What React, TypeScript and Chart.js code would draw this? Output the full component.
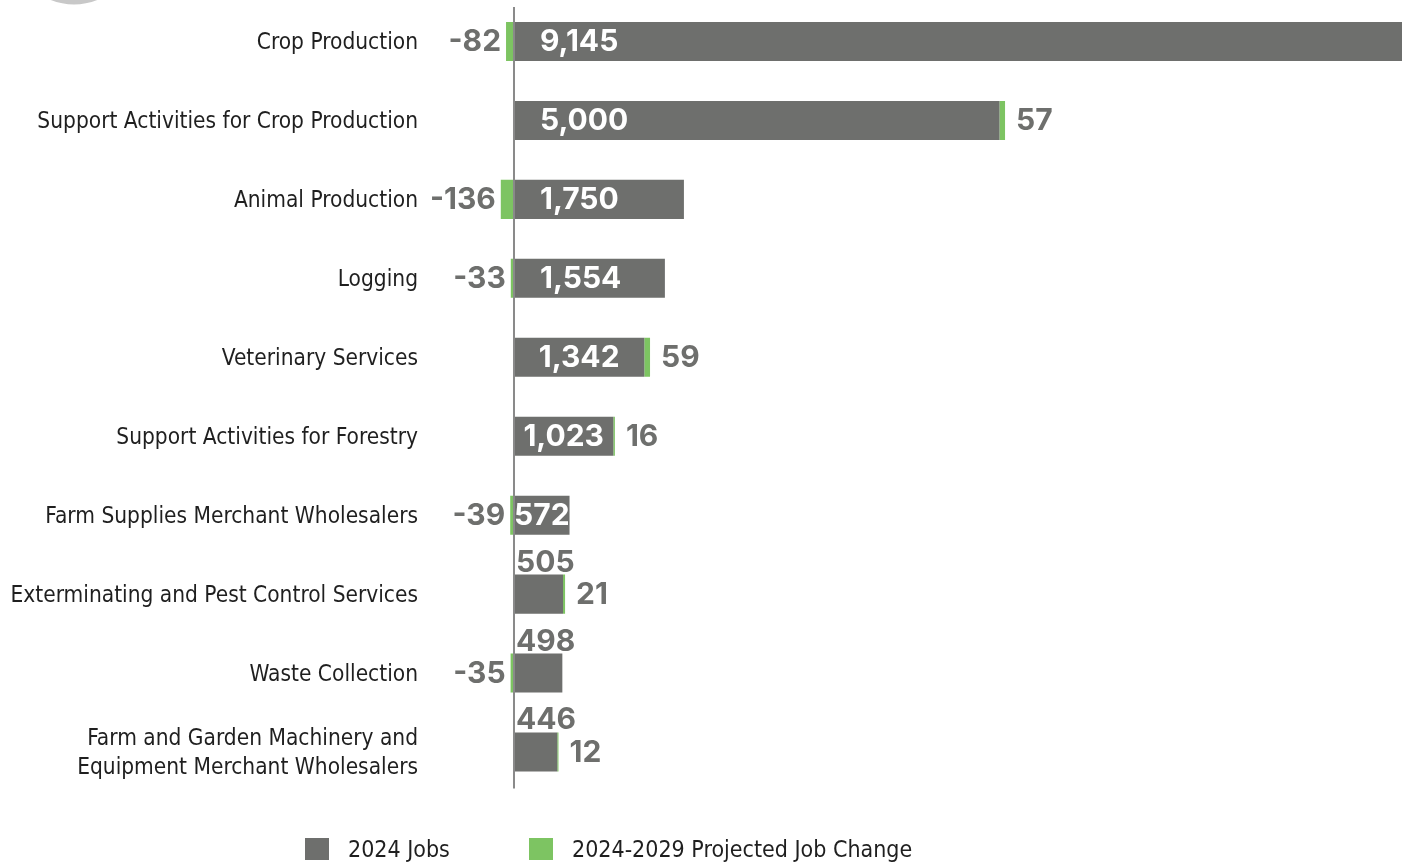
import React, { useEffect, useRef } from "react";
import { Chart, registerables } from "chart.js";

Chart.register(...registerables);

const categories: (string | string[])[] = [
  "Crop Production",
  "Support Activities for Crop Production",
  "Animal Production",
  "Logging",
  "Veterinary Services",
  "Support Activities for Forestry",
  "Farm Supplies Merchant Wholesalers",
  "Exterminating and Pest Control Services",
  "Waste Collection",
  ["Farm and Garden Machinery and", "Equipment Merchant Wholesalers"],
];

const jobs2024 = [9145, 5000, 1750, 1554, 1342, 1023, 572, 505, 498, 446];
const jobChange = [-82, 57, -136, -33, 59, 16, -39, 21, -35, 12];

const seriesNames = ["2024 Jobs", "2024-2029 Projected Job Change"];

const GRAY = "#6e6f6d";
const GREEN = "#7dc462";
const LABEL_GRAY = "#6e6f6d";
const TEXT_DARK = "#1f1f1f";
const CAT_FONT = "'Liberation Sans Narrow', 'DejaVu Sans Condensed', 'Roboto', sans-serif";
const NUM_FONT = "Inter, 'Open Sans', sans-serif";

const fmt = (v: number) => v.toLocaleString("en-US");

export default function App() {
  const ref = useRef<HTMLCanvasElement | null>(null);

  useEffect(() => {
    if (!ref.current) return;

    const decor = {
      id: "decor",
      beforeDraw(chart: any) {
        const ctx = chart.ctx;
        ctx.save();
        ctx.fillStyle = "#c8c8c8";
        ctx.beginPath();
        ctx.arc(74, -58, 62.5, 0, Math.PI * 2);
        ctx.fill();
        ctx.restore();
      },
      afterDatasetsDraw(chart: any) {
        const ctx = chart.ctx;
        const xs = chart.scales.x;
        const area = chart.chartArea;
        const x0 = xs.getPixelForValue(0);
        // zero axis line
        ctx.save();
        ctx.strokeStyle = "#8a8a8a";
        ctx.lineWidth = 2;
        ctx.beginPath();
        ctx.moveTo(x0, area.top + 5);
        ctx.lineTo(x0, area.bottom - 3);
        ctx.stroke();

        ctx.font = `bold 30px ${NUM_FONT}`;
        ctx.textBaseline = "middle";
        const m0 = chart.getDatasetMeta(0);
        const m1 = chart.getDatasetMeta(1);
        jobs2024.forEach((v, i) => {
          const bar = m0.data[i] as any;
          const left = Math.min(bar.base, bar.x);
          const right = Math.max(bar.base, bar.x);
          const w = right - left;
          const txt = fmt(v);
          const tw = ctx.measureText(txt).width;
          if (tw + 52 <= w) {
            ctx.fillStyle = "#ffffff";
            ctx.textAlign = "left";
            ctx.fillText(txt, left + 26, bar.y + 1);
          } else if (tw <= w + 2) {
            ctx.fillStyle = "#ffffff";
            ctx.textAlign = "center";
            ctx.fillText(txt, (left + right) / 2, bar.y + 1);
          } else {
            ctx.fillStyle = LABEL_GRAY;
            ctx.textAlign = "left";
            ctx.textBaseline = "alphabetic";
            ctx.fillText(txt, left + 2, bar.y - bar.height / 2 - 3);
            ctx.textBaseline = "middle";
          }
        });
        jobChange.forEach((v, i) => {
          const bar = m1.data[i] as any;
          const txt = fmt(v);
          ctx.fillStyle = LABEL_GRAY;
          if (v >= 0) {
            ctx.textAlign = "left";
            ctx.fillText(txt, Math.max(bar.x, bar.base) + 11, bar.y + 1);
          } else {
            ctx.textAlign = "right";
            ctx.fillText(txt, Math.min(bar.x, bar.base) - 5, bar.y + 1);
          }
        });

        // legend
        ctx.font = `23px ${CAT_FONT}`;
        ctx.textAlign = "left";
        ctx.textBaseline = "middle";
        const items = [
          { x: 305, color: GRAY, label: seriesNames[0] },
          { x: 529, color: GREEN, label: seriesNames[1] },
        ];
        items.forEach((it) => {
          ctx.fillStyle = it.color;
          ctx.fillRect(it.x, 838, 24, 22);
          ctx.fillStyle = TEXT_DARK;
          ctx.fillText(it.label, it.x + 43, 851);
        });
        ctx.restore();
      },
    };

    const chart = new Chart(ref.current, {
      type: "bar",
      data: {
        labels: categories,
        datasets: [
          {
            label: seriesNames[0],
            data: jobs2024,
            backgroundColor: GRAY,
            barPercentage: 1,
            categoryPercentage: 0.495,
          },
          {
            label: seriesNames[1],
            data: jobChange,
            backgroundColor: GREEN,
            barPercentage: 1,
            categoryPercentage: 0.495,
          },
        ],
      },
      options: {
        indexAxis: "y",
        responsive: false,
        animation: false,
        layout: { padding: { top: 2, right: 8, bottom: 73.5, left: 0 } },
        plugins: {
          legend: { display: false },
          tooltip: { enabled: false },
        },
        scales: {
          x: {
            stacked: true,
            min: -865,
            max: 9145,
            display: false,
          },
          y: {
            stacked: true,
            grid: { display: false },
            border: { display: false },
            ticks: {
              color: TEXT_DARK,
              padding: 4,
              labelOffset: 2,
              font: { family: CAT_FONT, size: 22.5, lineHeight: 1.28 },
            },
            afterFit(scale: any) {
              scale.width = 430;
              scale.paddingTop = 0;
              scale.paddingBottom = 0;
            },
          },
        },
      },
      plugins: [decor],
    });

    return () => chart.destroy();
  }, []);

  return (
    <div style={{ position: "absolute", left: 0, top: 0, width: 1410, height: 865 }}>
      <canvas ref={ref} width={1410} height={865} />
    </div>
  );
}
